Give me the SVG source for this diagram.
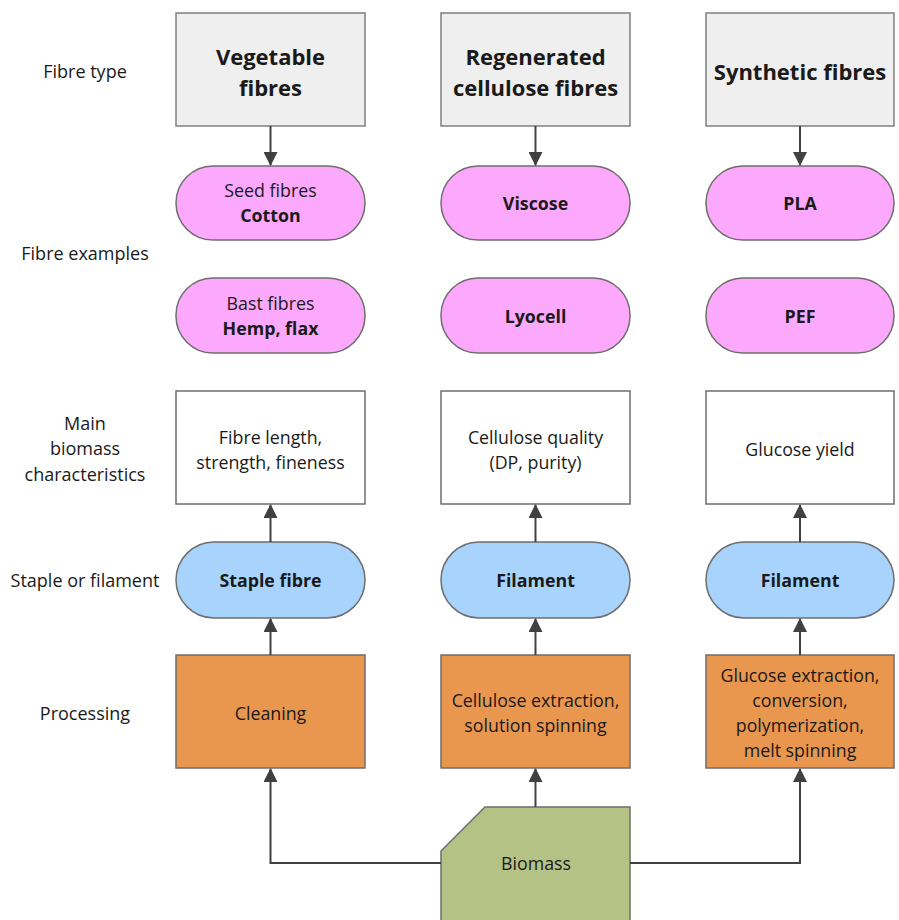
<svg xmlns="http://www.w3.org/2000/svg" width="899" height="920" viewBox="0 0 899 920">
<style>
text{font-family:"Open Sans","Noto Sans","Liberation Sans",sans-serif;fill:#1a1a1a;text-anchor:middle;dominant-baseline:central}
.lbl{font-size:18px}
.t{font-size:17.8px}
.b{font-weight:bold}
.h{font-size:22px;font-weight:bold}
.type rect{fill:#efefef;stroke:#7f7f7f;stroke-width:1.5}
.pink rect{fill:#fca8fc;stroke:#6e6e6e;stroke-width:1.5}
.blue rect{fill:#a8d3fd;stroke:#6e6e6e;stroke-width:1.5}
.white rect{fill:#ffffff;stroke:#6e6e6e;stroke-width:1.5}
.orange rect{fill:#e9964f;stroke:#6e6e6e;stroke-width:1.5}
.conn path{fill:none;stroke:#404040;stroke-width:2}
</style>
<defs>
<marker id="ah" viewBox="0 0 14 14" refX="13" refY="7" markerWidth="14" markerHeight="14" markerUnits="userSpaceOnUse" orient="auto">
<path d="M0,0 L14,7 L0,14 Z" fill="#404040"/>
</marker>
</defs>

<g id="row-labels">
<text class="lbl" x="85" y="71">Fibre type</text>
<text class="lbl" x="85" y="253">Fibre examples</text>
<text class="lbl" x="85" y="423">Main</text>
<text class="lbl" x="85" y="448">biomass</text>
<text class="lbl" x="85" y="474">characteristics</text>
<text class="lbl" x="85" y="580">Staple or filament</text>
<text class="lbl" x="85" y="713">Processing</text>
</g>

<g id="vegetable" class="type"><rect x="176" y="13" width="189" height="113"/><text class="h" x="270.5" y="56">Vegetable</text><text class="h" x="270.5" y="87">fibres</text></g>
<g id="regenerated" class="type"><rect x="441" y="13" width="189" height="113"/><text class="h" x="535.5" y="56">Regenerated</text><text class="h" x="535.5" y="87">cellulose fibres</text></g>
<g id="synthetic" class="type"><rect x="706" y="13" width="188" height="113"/><text class="h" x="800" y="71">Synthetic fibres</text></g>

<g id="seed" class="pink"><rect x="176" y="166" width="189" height="74" rx="37"/><text class="t" x="270.5" y="190">Seed fibres</text><text class="t b" x="270.5" y="215">Cotton</text></g>
<g id="viscose" class="pink"><rect x="441" y="166" width="189" height="74" rx="37"/><text class="t b" x="535.5" y="203">Viscose</text></g>
<g id="pla" class="pink"><rect x="706" y="166" width="188" height="74" rx="37"/><text class="t b" x="800" y="203">PLA</text></g>

<g id="bast" class="pink"><rect x="176" y="278" width="189" height="75" rx="37"/><text class="t" x="270.5" y="303">Bast fibres</text><text class="t b" x="270.5" y="328">Hemp, flax</text></g>
<g id="lyocell" class="pink"><rect x="441" y="278" width="189" height="75" rx="37"/><text class="t b" x="535.5" y="316">Lyocell</text></g>
<g id="pef" class="pink"><rect x="706" y="278" width="188" height="75" rx="37"/><text class="t b" x="800" y="316">PEF</text></g>

<g id="char1" class="white"><rect x="176" y="391" width="189" height="113"/><text class="t" x="270.5" y="437">Fibre length,</text><text class="t" x="270.5" y="462">strength, fineness</text></g>
<g id="char2" class="white"><rect x="441" y="391" width="189" height="113"/><text class="t" x="535.5" y="437">Cellulose quality</text><text class="t" x="535.5" y="462">(DP, purity)</text></g>
<g id="char3" class="white"><rect x="706" y="391" width="188" height="113"/><text class="t" x="800" y="449">Glucose yield</text></g>

<g id="staple" class="blue"><rect x="176" y="542" width="189" height="76" rx="38"/><text class="t b" x="270.5" y="580">Staple fibre</text></g>
<g id="filament2" class="blue"><rect x="441" y="542" width="189" height="76" rx="38"/><text class="t b" x="535.5" y="580">Filament</text></g>
<g id="filament3" class="blue"><rect x="706" y="542" width="188" height="76" rx="38"/><text class="t b" x="800" y="580">Filament</text></g>

<g id="proc1" class="orange"><rect x="176" y="655" width="189" height="113"/><text class="t" x="270.5" y="713">Cleaning</text></g>
<g id="proc2" class="orange"><rect x="441" y="655" width="189" height="113"/><text class="t" x="535.5" y="700">Cellulose extraction,</text><text class="t" x="535.5" y="725">solution spinning</text></g>
<g id="proc3" class="orange"><rect x="706" y="655" width="188" height="113"/><text class="t" x="800" y="675">Glucose extraction,</text><text class="t" x="800" y="700">conversion,</text><text class="t" x="800" y="725">polymerization,</text><text class="t" x="800" y="750">melt spinning</text></g>

<g id="biomass"><path d="M485,807 L630,807 L630,921 L441,921 L441,851 Z" fill="#b4c385" stroke="#6e6e6e" stroke-width="1.5"/><text class="t" x="536" y="863">Biomass</text></g>

<g id="connectors" class="conn">
<path d="M270.5,126 V165" marker-end="url(#ah)"/>
<path d="M535.5,126 V165" marker-end="url(#ah)"/>
<path d="M800,126 V165" marker-end="url(#ah)"/>
<path d="M270.5,542 V505" marker-end="url(#ah)"/>
<path d="M535.5,542 V505" marker-end="url(#ah)"/>
<path d="M800,542 V505" marker-end="url(#ah)"/>
<path d="M270.5,655 V619" marker-end="url(#ah)"/>
<path d="M535.5,655 V619" marker-end="url(#ah)"/>
<path d="M800,655 V619" marker-end="url(#ah)"/>
<path d="M441,863 H270.5 V769" marker-end="url(#ah)"/>
<path d="M630,863 H800 V769" marker-end="url(#ah)"/>
<path d="M535.5,807 V769" marker-end="url(#ah)"/>
</g>
</svg>
